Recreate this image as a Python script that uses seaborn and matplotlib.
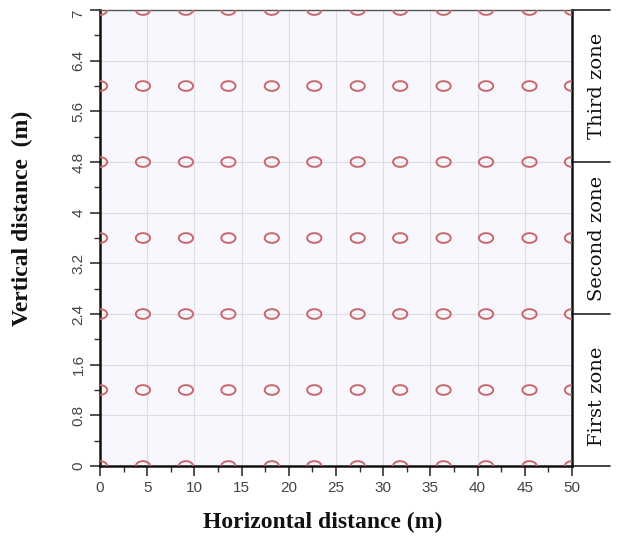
import numpy as np
import pandas as pd
import matplotlib
matplotlib.use("Agg")
import matplotlib.pyplot as plt
import seaborn as sns
from matplotlib.path import Path
from matplotlib.ticker import MultipleLocator, FixedLocator

# grid of measuring points
x_pos = [0, 4.55, 9.1, 13.6, 18.2, 22.7, 27.3, 31.8, 36.4, 40.9, 45.5, 50]
y_pos = [0, 1.2, 2.4, 3.6, 4.8, 6.0, 7.2]
zone_bounds = [0, 2.4, 4.8, 7.2]
zone_names = ["First zone", "Second zone", "Third zone"]
zone_centers = [1.1, 3.6, 6.0]
y_ticks = [0, 0.8, 1.6, 2.4, 3.2, 4, 4.8, 5.6, 6.4, 7.2]
y_ticklabels = ["0", "0.8", "1.6", "2.4", "3.2", "4", "4.8", "5.6", "6.4", "7"]

df = pd.DataFrame([(x, y) for y in y_pos for x in x_pos], columns=["x", "y"])

sns.set_theme(style="white")
plt.rcParams["font.family"] = ["Liberation Sans", "DejaVu Sans"]

t = np.linspace(0, 2 * np.pi, 60)
ellipse = Path(np.column_stack([np.cos(t), 0.68 * np.sin(t)]), closed=True)

fig = plt.figure(figsize=(6.33, 5.36), dpi=100)
ax = fig.add_axes([0.158, 0.1306, 0.7456, 0.8507])
ax.set_facecolor("#f7f7fd")

sns.scatterplot(data=df, x="x", y="y", ax=ax, marker=ellipse, s=105,
                facecolor="none", edgecolor="#c8686a", linewidth=1.4, zorder=3)

ax.set_xlim(0, 50)
ax.set_ylim(0, 7.2)
ax.xaxis.set_major_locator(MultipleLocator(5))
ax.xaxis.set_minor_locator(MultipleLocator(2.5))
ax.yaxis.set_major_locator(FixedLocator(y_ticks))
ax.set_yticklabels(y_ticklabels, rotation=90, va="center")
ax.get_yticklabels()[-1].set_va("top")
ax.yaxis.set_minor_locator(MultipleLocator(0.4))
ax.grid(True, which="major", color="#dcdce4", linewidth=0.8, zorder=0)
ax.tick_params(which="major", direction="out", length=7, width=1.2,
               color="#333333", labelsize=11, labelcolor="#444444", bottom=True, left=True)
ax.tick_params(which="minor", direction="out", length=4, width=1.0,
               color="#333333", bottom=True, left=True)

for side in ["left", "bottom", "right"]:
    ax.spines[side].set_color("#111111")
    ax.spines[side].set_linewidth(1.8)
ax.spines["top"].set_color("#555555")
ax.spines["top"].set_linewidth(1.0)

ax.set_xlabel("Horizontal distance (m)", family="Liberation Serif",
              fontweight="bold", fontsize=17, color="#111111")
ax.set_ylabel("Vertical distance  (m)", family="Liberation Serif",
              fontweight="bold", fontsize=17, color="#111111")
ax.xaxis.set_label_coords(0.4725, -0.1)
ax.yaxis.set_label_coords(-0.142, 0.544)

# zone bracket on the right
trans = ax.get_yaxis_transform()
for b in zone_bounds:
    ax.plot([1.0, 1.08], [b, b], transform=trans, color="#222222",
            linewidth=1.2, clip_on=False)
for name, c in zip(zone_names, zone_centers):
    ax.text(1.054, c, name, transform=trans, rotation=90, ha="center",
            va="center", family="DejaVu Serif", fontsize=14, color="#111111")

fig.savefig("out.png", dpi=100)
